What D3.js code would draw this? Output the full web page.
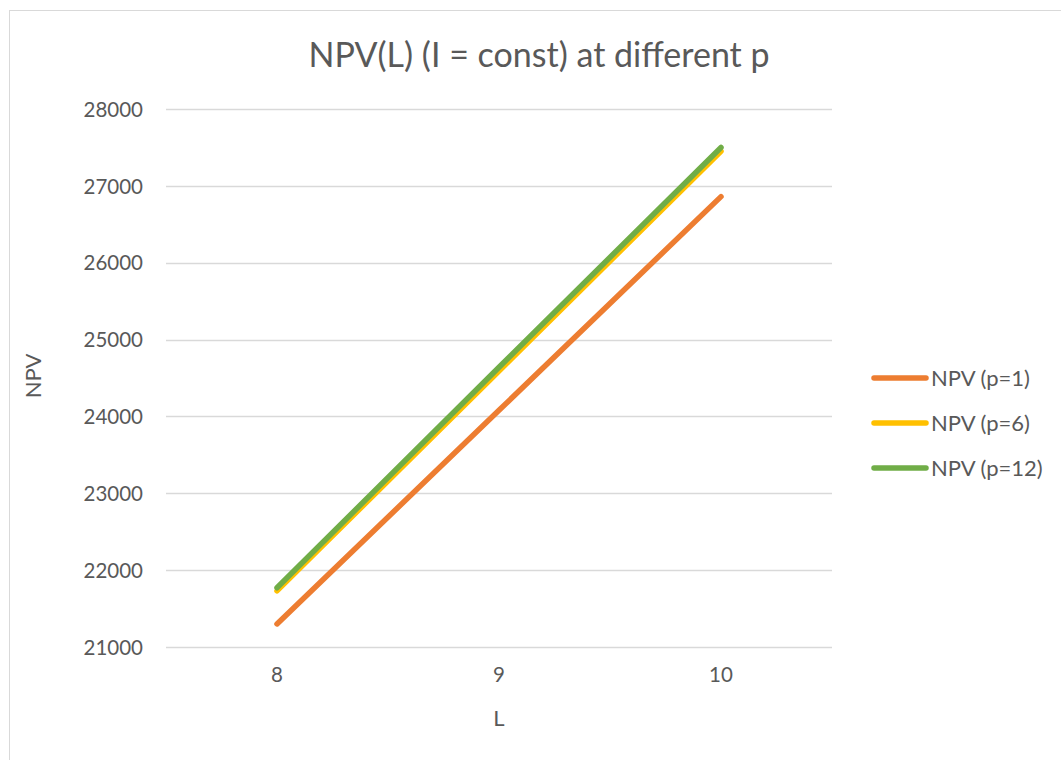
<!DOCTYPE html>
<html>
<head>
<meta charset="utf-8">
<script src="https://cdn.jsdelivr.net/npm/d3@7"></script>
<style>
  html, body { margin: 0; padding: 0; background: #fff; }
  svg { display: block; }
  text { font-family: Lato, "Open Sans", "Liberation Sans", sans-serif; fill: #595959; }
</style>
</head>
<body>
<svg id="chart" width="1061" height="760"></svg>
<script>
// Category axis: project life L
const categories = ["8", "9", "10"];
// NPV values for each payment frequency p
const npvP1 = [21300, 24080, 26860];
const npvP6 = [21730, 24590, 27450];
const npvP12 = [21770, 24640, 27500];
const seriesNames = ["NPV (p=1)", "NPV (p=6)", "NPV (p=12)"];
const seriesColors = ["#ED7D31", "#FFC000", "#70AD47"];
const yTicks = [21000, 22000, 23000, 24000, 25000, 26000, 27000, 28000];

const series = [npvP1, npvP6, npvP12].map((vals, i) => ({
  name: seriesNames[i], color: seriesColors[i], values: vals
}));

const svg = d3.select("#chart");

// Chart area frame
svg.append("rect")
  .attr("x", 9.5).attr("y", 10.5)
  .attr("width", 1060).attr("height", 760)
  .attr("fill", "#fff").attr("stroke", "#d9d9d9").attr("stroke-width", 1);

const plot = { left: 166, right: 832, top: 109, bottom: 647 };

const x = d3.scaleBand().domain(categories).range([plot.left, plot.right]);
const y = d3.scaleLinear().domain([21000, 28000]).range([plot.bottom, plot.top]);

// Horizontal gridlines
svg.append("g").selectAll("line").data(yTicks).join("line")
  .attr("x1", plot.left).attr("x2", plot.right)
  .attr("y1", d => Math.round(y(d)) + 0.5).attr("y2", d => Math.round(y(d)) + 0.5)
  .attr("stroke", "#d9d9d9").attr("stroke-width", 1.3);

// Y axis labels
const yAxis = d3.axisLeft(y).tickValues(yTicks).tickSize(0).tickPadding(0).tickFormat(d3.format("d"));
const yg = svg.append("g").attr("transform", `translate(${plot.left - 23},0)`).call(yAxis);
yg.select(".domain").remove();
yg.selectAll("text").attr("font-size", 20.5).attr("fill", "#595959")
  .style("font-family", "Lato, 'Open Sans', sans-serif").attr("dy", "0.35em");

// X axis labels
const xAxis = d3.axisBottom(x).tickSize(0).tickPadding(0);
const xg = svg.append("g").attr("transform", `translate(0,${plot.bottom + 20})`).call(xAxis);
xg.select(".domain").remove();
xg.selectAll("text").attr("font-size", 20.5).attr("fill", "#595959")
  .style("font-family", "Lato, 'Open Sans', sans-serif").attr("dy", "0.72em");

// Lines
const line = d3.line()
  .x((d, i) => x(categories[i]) + x.bandwidth() / 2)
  .y(d => y(d));

svg.append("g").selectAll("path").data(series).join("path")
  .attr("d", d => line(d.values))
  .attr("fill", "none")
  .attr("stroke", d => d.color)
  .attr("stroke-width", 5.5)
  .attr("stroke-linecap", "round")
  .attr("stroke-linejoin", "round");

// Title
svg.append("text")
  .attr("x", 539).attr("y", 67)
  .attr("text-anchor", "middle")
  .attr("font-size", 34)
  .text("NPV(L) (I = const) at different p");

// Axis titles
svg.append("text")
  .attr("transform", `translate(41,${(plot.top + plot.bottom) / 2 - 2}) rotate(-90)`)
  .attr("text-anchor", "middle")
  .attr("font-size", 22)
  .text("NPV");

svg.append("text")
  .attr("x", (plot.left + plot.right) / 2).attr("y", 726)
  .attr("text-anchor", "middle")
  .attr("font-size", 22)
  .text("L");

// Legend
const legend = svg.append("g").selectAll("g").data(series).join("g")
  .attr("transform", (d, i) => `translate(874,${378 + i * 45})`);
legend.append("line")
  .attr("x1", 0).attr("x2", 52).attr("y1", 0).attr("y2", 0)
  .attr("stroke", d => d.color).attr("stroke-width", 5.5).attr("stroke-linecap", "round");
legend.append("text")
  .attr("x", 57).attr("y", 0).attr("dy", "0.35em")
  .attr("font-size", 22)
  .text(d => d.name);
</script>
</body>
</html>
